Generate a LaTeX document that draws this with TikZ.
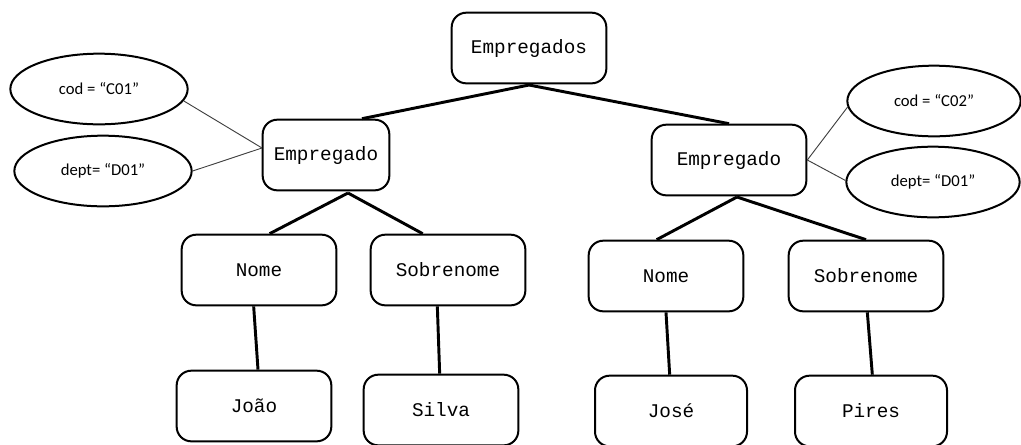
\documentclass[tikz,border=0pt]{standalone}
\usepackage{fontspec}
\setmonofont{Liberation Mono}
\newfontfamily\attrfont{Carlito}
\usetikzlibrary{shapes.geometric}
\tikzset{
 box/.style={draw,line width=1.5pt,rounded corners=11pt,minimum width=116pt,minimum height=53pt,inner sep=0pt,font=\ttfamily\fontsize{14.5}{16}\selectfont},
 attr/.style={draw,ellipse,line width=1.5pt,minimum width=133pt,minimum height=53pt,inner sep=0pt,font=\attrfont\fontsize{12.5}{14}\selectfont},
 edge/.style={line width=2.2pt},
 thin/.style={line width=0.7pt,black!75}
}
\begin{document}
\begin{tikzpicture}[x=0.75pt,y=-0.75pt]
 \useasboundingbox (0,0) rectangle (1021,444);
 % root
 \node[box] (raiz) at (529,48) {Empregados};
 % employees
 \node[box,minimum width=95pt] (emp1) at (326,155) {Empregado};
 \node[box] (emp2) at (729,160) {Empregado};
 % attributes
 \node[attr] (cod1) at (99,89) {cod = “C01”};
 \node[attr] (dept1) at (103,171) {dept= “D01”};
 \node[attr,minimum width=130pt] (cod2) at (934,101) {cod = “C02”};
 \node[attr,minimum width=130pt] (dept2) at (933,182) {dept= “D01”};
 % names
 \node[box] (nome1) at (259,270) {Nome};
 \node[box] (sobre1) at (448,270) {Sobrenome};
 \node[box] (nome2) at (666,276) {Nome};
 \node[box] (sobre2) at (866,276) {Sobrenome};
 % values
 \node[box] (val1) at (254,406) {João};
 \node[box] (val2) at (441,410) {Silva};
 \node[box,minimum width=114pt] (val3) at (671,411) {José};
 \node[box,minimum width=114pt] (val4) at (871,411) {Pires};
 % tree lines
 \coordinate (r) at (529,85);
 \coordinate (a) at (348,193);
 \coordinate (b) at (737,197);
 \draw[edge] (r) -- ([xshift=27pt]emp1.north);
 \draw[edge] (r) -- (emp2.north);
 \draw[edge] (a) -- ([xshift=8pt]nome1.north);
 \draw[edge] (a) -- ([xshift=-19pt]sobre1.north);
 \draw[edge] (b) -- ([xshift=-7pt]nome2.north);
 \draw[edge] (b) -- (sobre2.north);
 \draw[edge] ([xshift=-4pt]nome1.south) -- ([xshift=3pt]val1.north);
 \draw[edge] ([xshift=-8pt]sobre1.south) -- ([xshift=-1pt]val2.north);
 \draw[edge] (nome2.south) -- ([xshift=-1pt]val3.north);
 \draw[edge] ([xshift=1pt]sobre2.south) -- ([xshift=1pt]val4.north);
 % attribute lines
 \coordinate (p) at (262,148);
 \draw[thin] (cod1.-8) -- (p);
 \draw[thin] (dept1.east) -- (p);
 \draw[thin] (emp2.east) -- (cod2.184);
 \draw[thin] (emp2.east) -- (dept2.179);
\end{tikzpicture}
\end{document}
